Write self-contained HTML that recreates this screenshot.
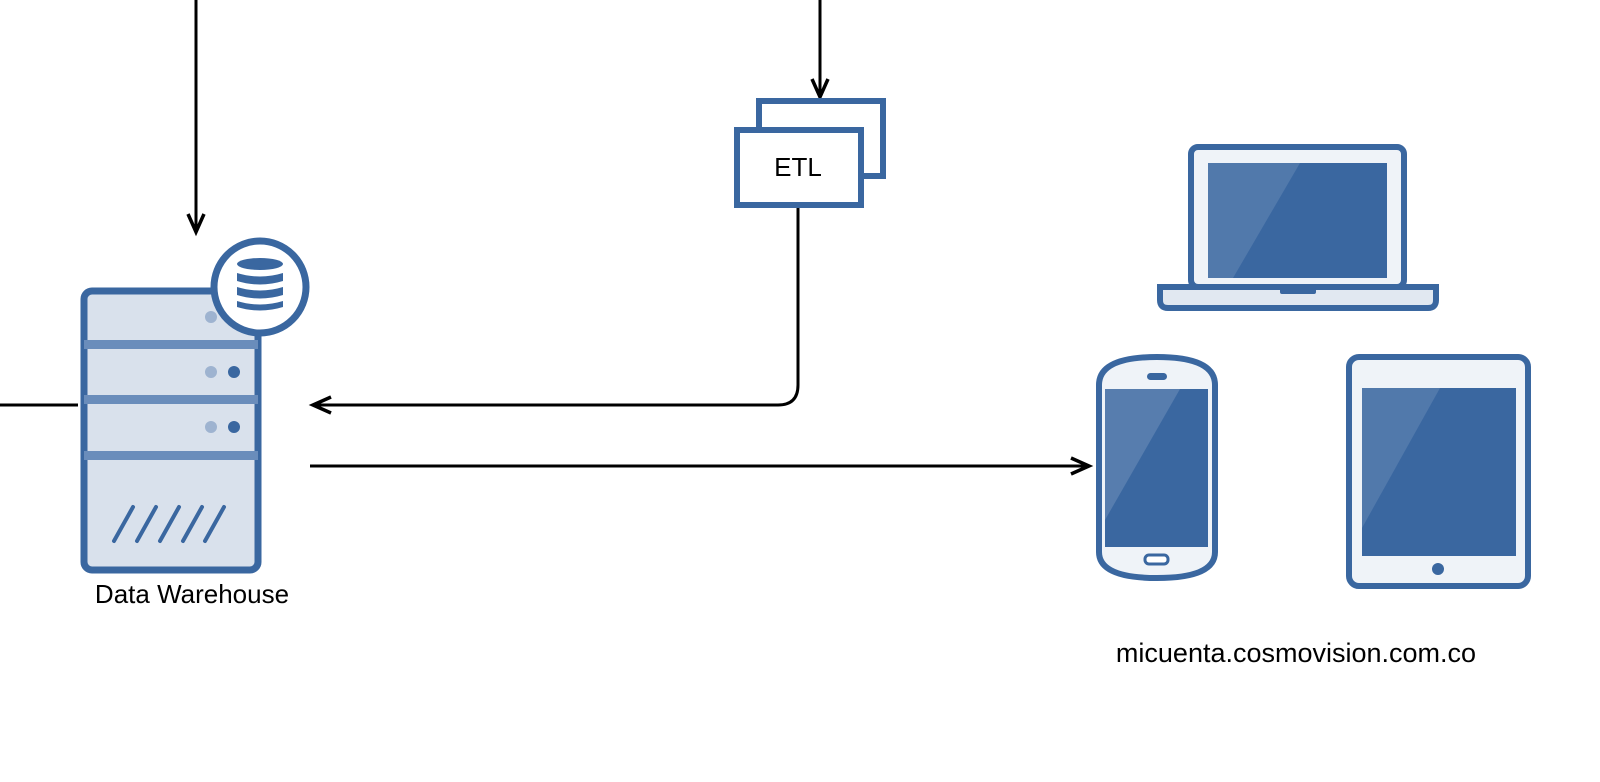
<!DOCTYPE html>
<html><head><meta charset="utf-8"><style>
html,body{margin:0;padding:0;background:#fff;width:1600px;height:782px;overflow:hidden}
svg{display:block}
text{font-family:"Liberation Sans",sans-serif;fill:#000}
</style></head><body>
<svg width="1600" height="782" viewBox="0 0 1600 782" xmlns="http://www.w3.org/2000/svg">
<g stroke="#000" stroke-width="3" fill="none">
<line x1="196" y1="0" x2="196" y2="230"/>
<polyline points="188,214 196,232 204,214" stroke-width="3.5"/>
<line x1="820" y1="0" x2="820" y2="96"/>
<polyline points="812,79 820,97 828,79" stroke-width="3.5"/>
<path d="M798,208 V385 Q798,405 778,405 H314"/>
<polyline points="331,397 313,405 331,413" stroke-width="3.5"/>
<line x1="0" y1="405" x2="78" y2="405"/>
<line x1="310" y1="466" x2="1088" y2="466"/>
<polyline points="1071,458 1089,466 1071,474" stroke-width="3.5"/>
</g>
<!-- ETL -->
<rect x="759" y="101" width="124" height="75" fill="#fff" stroke="#3a67a0" stroke-width="6"/>
<rect x="737" y="130" width="124" height="75" fill="#fff" stroke="#3a67a0" stroke-width="6"/>
<text x="798" y="176" font-size="26" text-anchor="middle">ETL</text>
<!-- server -->
<rect x="84" y="291" width="174" height="279" rx="8" fill="#d9e1ec" stroke="#3a67a0" stroke-width="7"/>
<rect x="84" y="340" width="174" height="9" fill="#6a8dbb"/>
<rect x="84" y="395" width="174" height="9" fill="#6a8dbb"/>
<rect x="84" y="451" width="174" height="9" fill="#6a8dbb"/>
<g fill="#9eb3d0"><circle cx="211" cy="317" r="6"/><circle cx="211" cy="372" r="6"/><circle cx="211" cy="427" r="6"/></g>
<g fill="#3a67a0"><circle cx="234" cy="372" r="6"/><circle cx="234" cy="427" r="6"/></g>
<g stroke="#3a67a0" stroke-width="4" stroke-linecap="round">
<line x1="114" y1="541" x2="133" y2="507"/><line x1="137" y1="541" x2="156" y2="507"/>
<line x1="160" y1="541" x2="179" y2="507"/><line x1="183" y1="541" x2="202" y2="507"/>
<line x1="205" y1="541" x2="224" y2="507"/>
</g>
<circle cx="260" cy="287" r="46" fill="#fff" stroke="#3a67a0" stroke-width="7"/>
<g fill="#3a67a0">
<ellipse cx="260" cy="264" rx="23" ry="6"/>
<path d="M237,273 q23,7 46,0 v8 q-23,7 -46,0z"/>
<path d="M237,287 q23,7 46,0 v8 q-23,7 -46,0z"/>
<path d="M237,301 q23,7 46,0 v6 q-23,7 -46,0z"/>
</g>
<text x="192" y="603" font-size="26" text-anchor="middle">Data Warehouse</text>
<!-- laptop -->
<rect x="1191" y="147" width="213" height="140" rx="7" fill="#eff3f8" stroke="#3a67a0" stroke-width="6"/>
<rect x="1208" y="163" width="179" height="115" fill="#3a67a0"/>
<polygon points="1208,163 1300,163 1233,278 1208,278" fill="#fff" opacity="0.12"/>
<path d="M1160,287 H1436 V300 Q1436,308 1428,308 H1168 Q1160,308 1160,300Z" fill="#e1e8f1" stroke="#3a67a0" stroke-width="6"/>
<rect x="1280" y="287" width="36" height="7" rx="2" fill="#3a67a0"/>
<!-- phone -->
<path d="M1099,385 Q1099,357 1157,357 Q1215,357 1215,385 V552 Q1215,578 1157,578 Q1099,578 1099,552Z" fill="#eff3f8" stroke="#3a67a0" stroke-width="6"/>
<rect x="1105" y="389" width="103" height="158" fill="#3a67a0"/>
<polygon points="1105,389 1180,389 1105,520" fill="#fff" opacity="0.15"/>
<rect x="1147" y="373" width="20" height="7" rx="3.5" fill="#3a67a0"/>
<rect x="1145" y="555" width="23" height="9" rx="4" fill="#fff" stroke="#3a67a0" stroke-width="3"/>
<!-- tablet -->
<rect x="1349" y="357" width="179" height="229" rx="10" fill="#eff3f8" stroke="#3a67a0" stroke-width="6"/>
<rect x="1362" y="388" width="154" height="168" fill="#3a67a0"/>
<polygon points="1362,388 1440,388 1362,528" fill="#fff" opacity="0.12"/>
<circle cx="1438" cy="569" r="6" fill="#3a67a0"/>
<text x="1296" y="662" font-size="27" text-anchor="middle">micuenta.cosmovision.com.co</text>
</svg>
</body></html>
